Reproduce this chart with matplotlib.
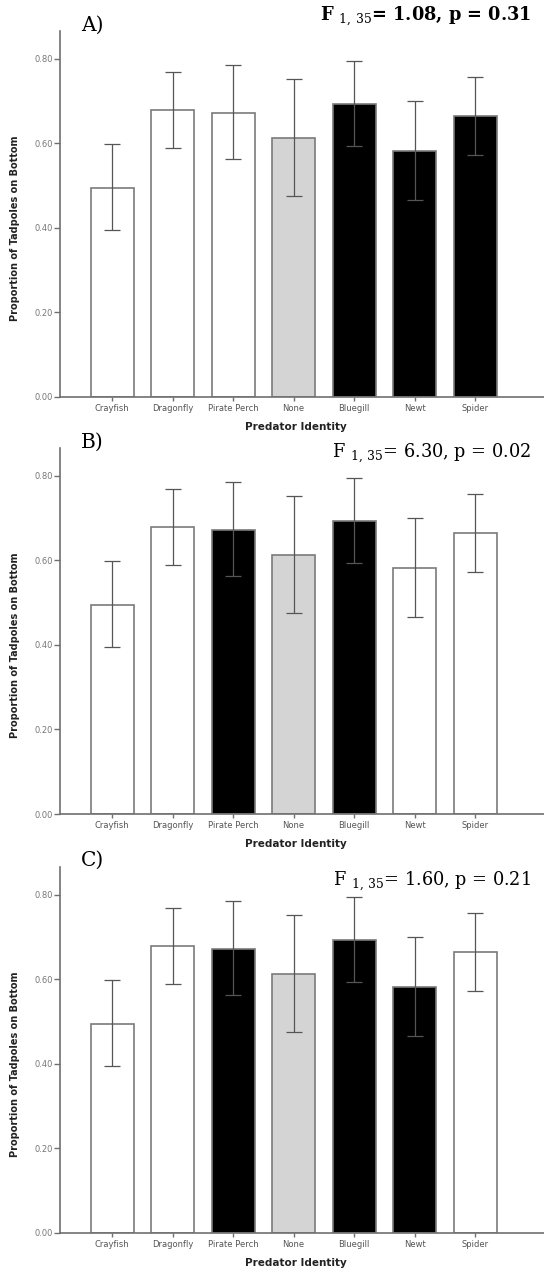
import matplotlib
matplotlib.use('Agg')
from matplotlib import pyplot as plt
import numpy as np

# data
predators = ['Crayfish', 'Dragonfly', 'Pirate Perch', 'None', 'Bluegill', 'Newt', 'Spider']
means = [0.495, 0.678, 0.673, 0.613, 0.693, 0.583, 0.665]
ci_low = [0.395, 0.588, 0.562, 0.475, 0.595, 0.465, 0.573]
ci_high = [0.598, 0.768, 0.785, 0.752, 0.795, 0.700, 0.757]

# contrast groups per panel: 0 = white, 1 = black, -1 = control (grey)
groups_a = [0, 0, 0, -1, 1, 1, 1]
groups_b = [0, 0, 1, -1, 1, 0, 0]
groups_c = [0, 0, 1, -1, 1, 1, 0]

panel_labels = ['A)', 'B)', 'C)']
f_values = ['1.08', '6.30', '1.60']
p_values = ['0.31', '0.02', '0.21']

plt.rcParams['mathtext.fontset'] = 'dejavuserif'

W, H = 544.0, 1274.0
fig = plt.figure(figsize=(W / 100, H / 100), dpi=100)

fill = {0: 'white', 1: 'black', -1: '#d4d4d4'}
axis_col = '#707070'
# (top, bottom) of each axes in pixels, label y, F-text y
boxes = [(31, 397), (448, 814), (867, 1233)]
label_y = [25, 442, 860]
ftext_y = [16, 453, 881]
x = np.arange(len(predators))
err = [np.array(means) - np.array(ci_low), np.array(ci_high) - np.array(means)]

for i, groups in enumerate([groups_a, groups_b, groups_c]):
    top, bot = boxes[i]
    ax = fig.add_axes([60 / W, 1 - bot / H, 484 / W, (bot - top) / H])
    ax.bar(x, means, width=0.71, color=[fill[g] for g in groups],
           edgecolor='#7a7a7a', linewidth=1.2, zorder=2)
    ax.errorbar(x, means, yerr=err, fmt='none', ecolor='#555555',
                elinewidth=0.9, capsize=5.5, capthick=0.9, zorder=3)
    ax.set_xlim(-0.86, 7.14)
    ax.set_ylim(0, 0.866)
    ax.set_yticks([0, 0.2, 0.4, 0.6, 0.8])
    ax.set_yticklabels(['%.2f' % v for v in [0, 0.2, 0.4, 0.6, 0.8]])
    ax.set_xticks(x)
    ax.set_xticklabels(predators)
    for s in ['top', 'right']:
        ax.spines[s].set_visible(False)
    for s in ['left', 'bottom']:
        ax.spines[s].set_color(axis_col)
        ax.spines[s].set_linewidth(1.2)
    ax.tick_params(axis='y', length=4, width=1, color=axis_col,
                   labelsize=6, labelcolor='#777777', pad=1)
    ax.tick_params(axis='x', length=3, width=1, color=axis_col,
                   labelsize=6, labelcolor='#555555', pad=2)
    ax.set_ylabel('Proportion of Tadpoles on Bottom', fontsize=7,
                  fontweight='bold', color='#222222')
    ax.yaxis.set_label_coords(-0.082, 0.46)
    ax.set_xlabel('Predator Identity', fontsize=7.5, fontweight='bold',
                  color='#222222')
    ax.xaxis.set_label_coords(0.488, -0.068)

    ax.text(81 / W, 1 - label_y[i] / H, panel_labels[i], transform=fig.transFigure,
            family='DejaVu Serif', fontsize=14.5, va='center', ha='left')
    ax.text(531 / W, 1 - ftext_y[i] / H,
            r'F $_{1,\,35}$= ' + f_values[i] + ', p = ' + p_values[i],
            transform=fig.transFigure, family='DejaVu Serif', fontsize=12.8,
            va='center', ha='right',
            fontweight='bold' if i == 0 else 'normal')

fig.savefig('out.png', dpi=100, facecolor='white')
